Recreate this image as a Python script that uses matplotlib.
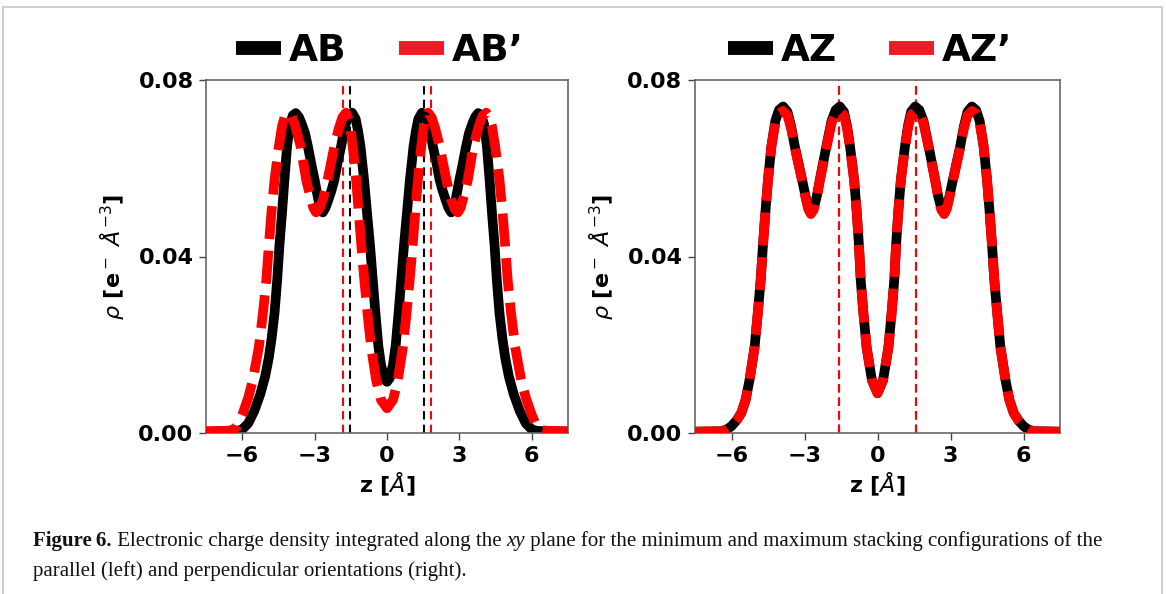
import matplotlib
matplotlib.use("Agg")
import matplotlib.pyplot as plt
from matplotlib.lines import Line2D
from matplotlib.patches import Rectangle

# ---------------- data ----------------
z_ab = [-7.5, -6.5, -6.2, -6.0, -5.75, -5.5, -5.25, -5.05, -4.9, -4.78, -4.66, -4.55, -4.46, -4.35,
        -4.25, -4.14, -4.02, -3.9, -3.78, -3.65, -3.55, -3.4, -3.28, -3.12, -3.0, -2.85, -2.75,
        -2.66, -2.55, -2.45, -2.3, -2.18, -2.05, -1.9, -1.8, -1.7, -1.58, -1.45, -1.3, -1.2, -1.1,
        -0.95, -0.83, -0.7, -0.59, -0.48, -0.36, -0.25, -0.12, 0.0,
        0.12, 0.25, 0.36, 0.48, 0.59, 0.7, 0.83, 0.95, 1.1, 1.2, 1.3, 1.45, 1.58, 1.7, 1.8, 1.9,
        2.05, 2.18, 2.3, 2.45, 2.55, 2.66, 2.75, 2.85, 3.0, 3.12, 3.28, 3.4, 3.55, 3.65, 3.78, 3.9,
        4.02, 4.14, 4.25, 4.35, 4.46, 4.55, 4.66, 4.78, 4.9, 5.05, 5.25, 5.5, 5.75, 6.0, 6.2, 6.5, 7.5]
rho_ab = [0.0003, 0.0004, 0.0005, 0.0008, 0.0022, 0.0050, 0.0088, 0.0128, 0.0170, 0.0215, 0.0272,
          0.0347, 0.0423, 0.0499, 0.0574, 0.0650, 0.0700, 0.0720, 0.0725, 0.0716, 0.0703, 0.0680,
          0.0650, 0.0605, 0.0574, 0.0530, 0.0508, 0.0500, 0.0510, 0.0525, 0.0550, 0.0574, 0.0612,
          0.0650, 0.0680, 0.0703, 0.0720, 0.0726, 0.0712, 0.0685, 0.0650, 0.0574, 0.0500, 0.0423,
          0.0347, 0.0272, 0.0198, 0.0155, 0.0125, 0.0116,
          0.0125, 0.0155, 0.0198, 0.0272, 0.0347, 0.0423, 0.0500, 0.0574, 0.0650, 0.0685, 0.0712,
          0.0726, 0.0720, 0.0703, 0.0680, 0.0650, 0.0612, 0.0574, 0.0550, 0.0525, 0.0510, 0.0500,
          0.0508, 0.0530, 0.0574, 0.0605, 0.0650, 0.0680, 0.0703, 0.0716, 0.0725, 0.0720, 0.0700,
          0.0650, 0.0574, 0.0499, 0.0423, 0.0347, 0.0272, 0.0215, 0.0170, 0.0128, 0.0088, 0.0050,
          0.0022, 0.0008, 0.0005, 0.0004, 0.0003]

z_abp = [-7.5, -6.6, -6.4, -6.2, -5.97, -5.75, -5.56, -5.31, -5.14, -5.0, -4.9, -4.79, -4.66, -4.48,
         -4.35, -4.25, -4.11, -3.95, -3.8, -3.58, -3.35, -3.2, -3.05, -2.94, -2.8, -2.65, -2.46,
         -2.18, -2.0, -1.85, -1.7, -1.55, -1.42, -1.28, -1.17, -1.06, -0.94, -0.81, -0.66, -0.45,
         -0.25, 0.0,
         0.25, 0.45, 0.66, 0.81, 0.94, 1.06, 1.17, 1.28, 1.42, 1.55, 1.7, 1.85, 2.0, 2.18, 2.46,
         2.65, 2.8, 2.94, 3.05, 3.2, 3.35, 3.58, 3.8, 3.95, 4.11, 4.25, 4.35, 4.48, 4.66, 4.79, 4.9,
         5.0, 5.14, 5.31, 5.56, 5.75, 5.97, 6.2, 6.4, 6.6, 7.5]
rho_abp = [0.0004, 0.0005, 0.0007, 0.0015, 0.0045, 0.0080, 0.0120, 0.0195, 0.0272, 0.0347, 0.0423,
           0.0499, 0.0574, 0.0650, 0.0695, 0.0715, 0.0726, 0.0718, 0.0695, 0.0650, 0.0574, 0.0540,
           0.0510, 0.0500, 0.0508, 0.0530, 0.0574, 0.0650, 0.0690, 0.0715, 0.0726, 0.0705, 0.0650,
           0.0574, 0.0499, 0.0423, 0.0347, 0.0272, 0.0195, 0.0120, 0.0075, 0.0056,
           0.0075, 0.0120, 0.0195, 0.0272, 0.0347, 0.0423, 0.0499, 0.0574, 0.0650, 0.0705, 0.0726,
           0.0715, 0.0690, 0.0650, 0.0574, 0.0530, 0.0508, 0.0500, 0.0510, 0.0540, 0.0574, 0.0650,
           0.0695, 0.0718, 0.0726, 0.0715, 0.0695, 0.0650, 0.0574, 0.0499, 0.0423, 0.0347, 0.0272,
           0.0195, 0.0120, 0.0080, 0.0045, 0.0015, 0.0007, 0.0005, 0.0004]

z_az = [-7.5, -6.42, -6.2, -6.01, -5.8, -5.6, -5.42, -5.26, -5.05, -4.92, -4.8, -4.71, -4.61, -4.5,
        -4.36, -4.2, -4.05, -3.88, -3.7, -3.55, -3.4, -3.1, -2.95, -2.85, -2.74, -2.62, -2.5,
        -2.37, -2.1, -1.89, -1.72, -1.55, -1.38, -1.25, -1.13, -0.96, -0.85, -0.76, -0.69, -0.58,
        -0.45, -0.23, 0.0,
        0.23, 0.45, 0.58, 0.69, 0.76, 0.85, 0.96, 1.13, 1.25, 1.38, 1.55, 1.72, 1.89, 2.1, 2.37,
        2.5, 2.62, 2.74, 2.85, 2.95, 3.1, 3.4, 3.55, 3.7, 3.88, 4.05, 4.2, 4.36, 4.5, 4.61, 4.71,
        4.8, 4.92, 5.05, 5.26, 5.42, 5.6, 5.8, 6.01, 6.2, 6.42, 7.5]
rho_az = [0.0003, 0.0004, 0.0008, 0.0015, 0.0028, 0.0045, 0.0075, 0.0120, 0.0195, 0.0272, 0.0347,
          0.0423, 0.0499, 0.0574, 0.0650, 0.0707, 0.0732, 0.0740, 0.0728, 0.0695, 0.0650, 0.0574,
          0.0535, 0.0512, 0.0500, 0.0510, 0.0535, 0.0574, 0.0650, 0.0707, 0.0732, 0.0740, 0.0728,
          0.0695, 0.0650, 0.0574, 0.0499, 0.0423, 0.0347, 0.0272, 0.0195, 0.0120, 0.0090,
          0.0120, 0.0195, 0.0272, 0.0347, 0.0423, 0.0499, 0.0574, 0.0650, 0.0695, 0.0728, 0.0740,
          0.0732, 0.0707, 0.0650, 0.0574, 0.0535, 0.0510, 0.0500, 0.0512, 0.0535, 0.0574, 0.0650,
          0.0695, 0.0728, 0.0740, 0.0732, 0.0707, 0.0650, 0.0574, 0.0499, 0.0423, 0.0347, 0.0272,
          0.0195, 0.0120, 0.0075, 0.0045, 0.0028, 0.0015, 0.0008, 0.0004, 0.0003]

z_azp = z_az
rho_azp = [0.0003, 0.0004, 0.0008, 0.0015, 0.0028, 0.0045, 0.0075, 0.0120, 0.0195, 0.0272, 0.0347,
           0.0423, 0.0499, 0.0574, 0.0650, 0.0702, 0.0724, 0.0730, 0.0720, 0.0690, 0.0647, 0.0572,
           0.0532, 0.0508, 0.0496, 0.0506, 0.0532, 0.0572, 0.0647, 0.0702, 0.0724, 0.0730, 0.0720,
           0.0690, 0.0647, 0.0572, 0.0498, 0.0423, 0.0347, 0.0272, 0.0195, 0.0120, 0.0090,
           0.0120, 0.0195, 0.0272, 0.0347, 0.0423, 0.0498, 0.0572, 0.0647, 0.0690, 0.0720, 0.0730,
           0.0724, 0.0702, 0.0647, 0.0572, 0.0532, 0.0506, 0.0496, 0.0508, 0.0532, 0.0572, 0.0647,
           0.0690, 0.0720, 0.0730, 0.0724, 0.0702, 0.0650, 0.0574, 0.0499, 0.0423, 0.0347, 0.0272,
           0.0195, 0.0120, 0.0075, 0.0045, 0.0028, 0.0015, 0.0008, 0.0004, 0.0003]

vlines_left_black = [-1.53, 1.53]
vlines_left_red = [-1.84, 1.84]
vlines_right = [-1.59, 1.59]

xticks = [-6, -3, 0, 3, 6]
yticks = [0.00, 0.04, 0.08]
ytick_labels = ["0.00", "0.04", "0.08"]
legend_left = ["AB", "AB\u2019"]
legend_right = ["AZ", "AZ\u2019"]

# ---------------- figure ----------------
W, H = 1166, 594
fig = plt.figure(figsize=(W / 100, H / 100), dpi=100)

# outer grey frame
fig.patches.append(Rectangle((3 / W, -0.05), (1162 - 3) / W, 1.05 - 7 / H, transform=fig.transFigure,
                             fill=False, edgecolor="#c6c6c6", linewidth=1.2))

axL = fig.add_axes([206 / W, 1 - 433 / H, 362 / W, 353 / H])
axR = fig.add_axes([695 / W, 1 - 433 / H, 365 / W, 353 / H])

LW = 7
DASH = (3.4, 1.2)

def style(ax, labels):
    ax.set_xlim(-7.5, 7.5)
    ax.set_ylim(0, 0.08)
    ax.set_xticks(xticks)
    ax.set_xticklabels(["\u22126", "\u22123", "0", "3", "6"])
    ax.set_yticks(yticks)
    ax.set_yticklabels(ytick_labels)
    for lab in ax.get_xticklabels() + ax.get_yticklabels():
        lab.set_fontweight("bold")
        lab.set_fontsize(16)
    ax.tick_params(direction="out", length=5, width=1, color="#444444", pad=4)
    for s in ax.spines.values():
        s.set_color("#666666")
        s.set_linewidth(1.2)
    ax.set_xlabel(r"z [$\AA$]", fontsize=16, fontweight="bold", labelpad=4)
    ax.set_ylabel(r"$\rho$ [e$^-$ $\AA^{-3}$]", fontsize=16, fontweight="bold", labelpad=8)
    handles = [Line2D([], [], color="black", lw=10, solid_capstyle="butt"),
               Line2D([], [], color="#ee1c25", lw=10, solid_capstyle="butt")]
    ax.legend(handles, labels, loc="lower center", bbox_to_anchor=(0.48, 1.02), ncol=2,
              frameon=False, handlelength=1.2, handletextpad=0.2, columnspacing=1.4,
              borderaxespad=0.0, borderpad=0.1,
              prop={"weight": "bold", "size": 27})

# left panel
for v in vlines_left_black:
    axL.axvline(v, color="black", lw=1.5, ls=(0, (4, 2.5)), zorder=1)
for v in vlines_left_red:
    axL.axvline(v, color="red", lw=1.5, ls=(0, (4, 2.5)), zorder=1)
axL.plot(z_ab, rho_ab, color="black", lw=LW, solid_joinstyle="round", zorder=2)
axL.plot(z_abp, rho_abp, color="red", lw=LW, ls=(0, DASH), dash_joinstyle="round", zorder=3)
style(axL, legend_left)

# right panel
for v in vlines_right:
    axR.axvline(v, color="black", lw=1.5, ls=(0, (4, 2.5)), zorder=1)
    axR.axvline(v, color="red", lw=1.5, ls=(0, (4, 2.5)), zorder=1)
axR.plot(z_az, rho_az, color="black", lw=LW, solid_joinstyle="round", zorder=2)
axR.plot(z_azp, rho_azp, color="red", lw=LW, ls=(0, DASH), dash_joinstyle="round", zorder=3)
style(axR, legend_right)

# caption
cap_font = "Liberation Serif"
cap_size = 15.0
fig.canvas.draw()
renderer = fig.canvas.get_renderer()

def put(x_px, y_px, s, **kw):
    t = fig.text(x_px / W, 1 - y_px / H, s, fontfamily=cap_font, fontsize=cap_size,
                 va="baseline", ha="left", color="#111111", **kw)
    bb = t.get_window_extent(renderer=renderer)
    return x_px + bb.width

y1, y2 = 546, 576
x = put(33, y1, "Figure\u20096.", fontweight="bold")
x = put(x, y1, " Electronic charge density integrated along the ")
x = put(x, y1, "xy", fontstyle="italic")
x = put(x, y1, " plane for the minimum and maximum stacking configurations of the")
put(33, y2, "parallel (left) and perpendicular orientations (right).")

fig.savefig("out.png", dpi=100)
